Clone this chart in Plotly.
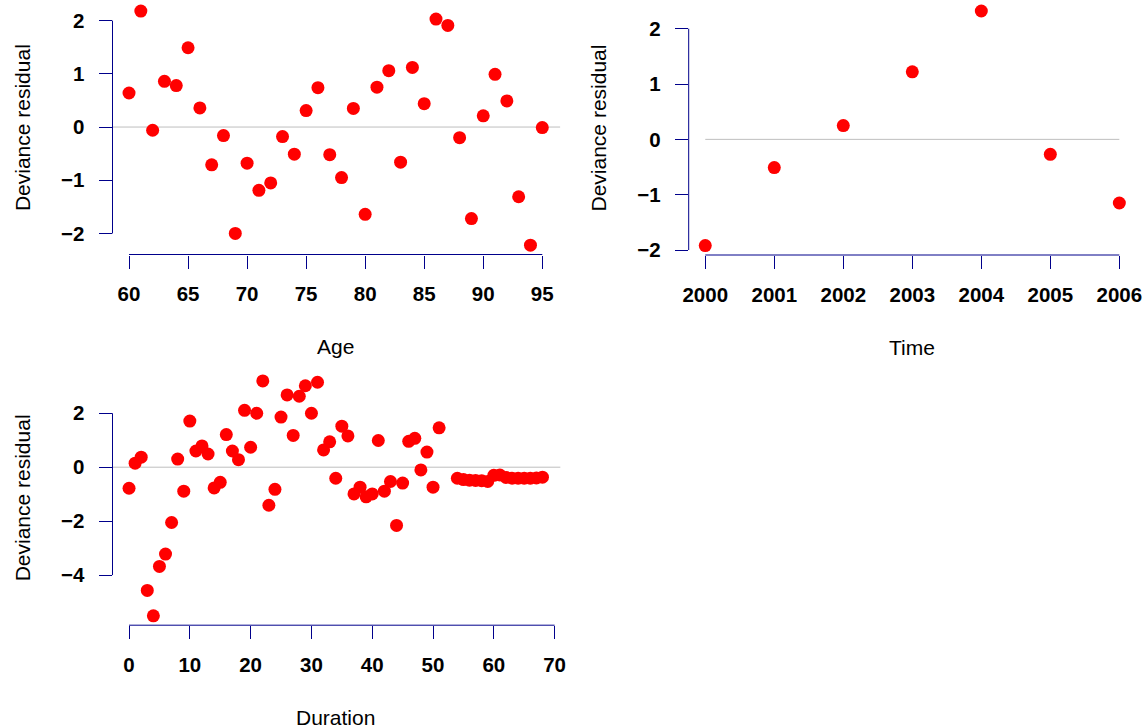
import plotly.graph_objects as go

W, H = 1147, 728

# ---------------- data ----------------
age = list(range(60, 96))
age_resid = [0.64, 2.18, -0.06, 0.86, 0.78, 1.49, 0.36, -0.71, -0.16, -2.00,
             -0.68, -1.19, -1.05, -0.18, -0.51, 0.31, 0.74, -0.52, -0.95, 0.35,
             -1.64, 0.75, 1.06, -0.66, 1.12, 0.44, 2.03, 1.91, -0.20, -1.72,
             0.21, 0.99, 0.49, -1.31, -2.22, -0.01]

time = [2000, 2001, 2002, 2003, 2004, 2005, 2006]
time_resid = [-1.92, -0.51, 0.25, 1.22, 2.32, -0.27, -1.15]

duration = list(range(0, 52)) + list(range(54, 69))
duration_resid = [-0.78, 0.15, 0.37, -4.57, -5.51, -3.68, -3.22, -2.05, 0.30, -0.89,
                  1.71, 0.60, 0.79, 0.49, -0.77, -0.56, 1.21, 0.60, 0.28, 2.11,
                  0.74, 2.00, 3.20, -1.41, -0.82, 1.86, 2.68, 1.18, 2.63, 3.02,
                  2.00, 3.15, 0.64, 0.94, -0.41, 1.52, 1.16, -0.99, -0.74, -1.10,
                  -0.99, 0.99, -0.89, -0.53, -2.16, -0.59, 0.96, 1.07, -0.10, 0.56,
                  -0.74, 1.46,
                  -0.41, -0.46, -0.48, -0.49, -0.50, -0.53, -0.30, -0.29, -0.38, -0.41,
                  -0.41, -0.41, -0.41, -0.40, -0.37]

age_ticks = [60, 65, 70, 75, 80, 85, 90, 95]
time_ticks = [2000, 2001, 2002, 2003, 2004, 2005, 2006]
duration_ticks = [0, 10, 20, 30, 40, 50, 60, 70]
resid_ticks_12 = [-2, -1, 0, 1, 2]
resid_ticks_3 = [-4, -2, 0, 2]

x_titles = ["Age", "Time", "Duration"]
y_title = "Deviance residual"

# ---------------- layout helpers ----------------
AXIS_COLOR = "#00008B"
FAMILY = "Liberation Sans, Arial, sans-serif"
TICK_FONT = dict(family=FAMILY, size=20.5, color="black", weight="bold")
TITLE_FONT = dict(family=FAMILY, size=21, color="black")


def rrange(v):
    lo, hi = min(v), max(v)
    d = (hi - lo) * 0.04
    return [lo - d, hi + d]


def lab(v):
    return str(v).replace("-", "\u2212")


# plot regions in pixels: (left, right, top, bottom)
regions = [
    (112.5, 558.8, 1.7, 254.5),
    (688.7, 1135.9, 1.6, 255.0),
    (112.5, 559.0, 371.5, 625.2),
]

panels = [
    (age, age_resid, age_ticks, resid_ticks_12, "full"),
    (time, time_resid, time_ticks, resid_ticks_12, "data"),
    (duration, duration_resid, duration_ticks, resid_ticks_3, "full"),
]

fig = go.Figure()
shapes = []
annotations = []

for i, ((xs, ys, xt, yt, hmode), (l, r, t, b)) in enumerate(zip(panels, regions)):
    n = "" if i == 0 else str(i + 1)
    xa, ya = "x" + n, "y" + n
    fig.add_trace(go.Scatter(
        x=xs, y=ys, mode="markers", xaxis=xa, yaxis=ya,
        marker=dict(color="#FF0000", size=13, line=dict(width=0)),
        showlegend=False, hoverinfo="x+y", cliponaxis=False))

    common = dict(showgrid=False, zeroline=False, showline=False,
                  ticks="outside", ticklen=13, tickwidth=1, tickcolor=AXIS_COLOR,
                  tickfont=TICK_FONT, automargin=False)
    fig.layout["xaxis" + n] = dict(
        domain=[l / W, r / W], range=rrange(xs), anchor=ya,
        tickmode="array", tickvals=xt, ticktext=[lab(v) for v in xt],
        ticklabelstandoff=8, **common)
    fig.layout["yaxis" + n] = dict(
        domain=[1 - b / H, 1 - t / H], range=rrange(ys), anchor=xa,
        tickmode="array", tickvals=yt, ticktext=[lab(v) for v in yt],
        ticklabelstandoff=10, **common)

    # R-style axis lines spanning first to last tick
    shapes.append(dict(type="line", xref=xa, yref=ya + " domain",
                       x0=xt[0], x1=xt[-1], y0=0, y1=0,
                       line=dict(color=AXIS_COLOR, width=1)))
    shapes.append(dict(type="line", xref=xa + " domain", yref=ya,
                       x0=0, x1=0, y0=yt[0], y1=yt[-1],
                       line=dict(color=AXIS_COLOR, width=1)))
    # zero reference line
    if hmode == "full":
        shapes.append(dict(type="line", xref=xa + " domain", yref=ya,
                           x0=0, x1=1.003, y0=0, y1=0,
                           line=dict(color="#BEBEBE", width=1), layer="below"))
    else:
        shapes.append(dict(type="line", xref=xa, yref=ya,
                           x0=xs[0], x1=xs[-1], y0=0, y1=0,
                           line=dict(color="#BEBEBE", width=1), layer="below"))

    # axis titles
    annotations.append(dict(text=x_titles[i], xref="paper", yref="paper",
                            x=(l + r) / 2 / W, y=1 - (b + 92) / H,
                            xanchor="center", yanchor="middle",
                            showarrow=False, font=TITLE_FONT))
    annotations.append(dict(text=y_title, xref="paper", yref="paper",
                            x=(l - 90.5) / W, y=1 - (t + b) / 2 / H,
                            xanchor="center", yanchor="middle", textangle=-90,
                            showarrow=False, font=TITLE_FONT))

fig.update_layout(
    width=W, height=H, autosize=False,
    margin=dict(l=0, r=0, t=0, b=0, pad=0, autoexpand=False),
    paper_bgcolor="white", plot_bgcolor="white",
    hovermode=False,
    shapes=shapes, annotations=annotations,
)

fig.write_html(
    "out.html",
    config={"displayModeBar": False},
    post_script="document.body.style.margin='0px';document.body.style.overflow='hidden';",
)
